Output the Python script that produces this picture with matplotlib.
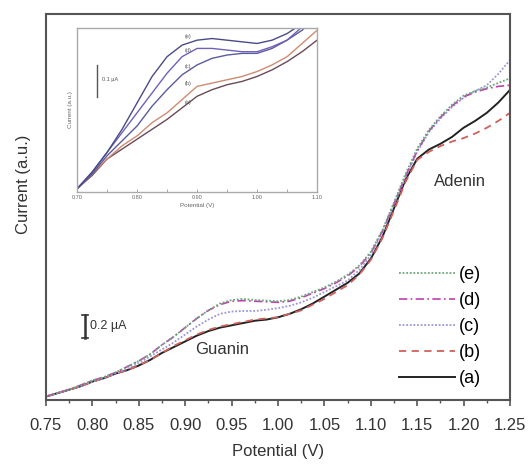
import numpy as np
import matplotlib
matplotlib.use("Agg")
import matplotlib.pyplot as plt

plt.rcParams['font.family'] = ['Liberation Sans', 'DejaVu Sans']

# main DPV curves, current in uA (0.0125 V steps)
potential = [0.75, 0.7625, 0.775, 0.7875, 0.80, 0.8125, 0.825, 0.8375, 0.85, 0.8625,
             0.875, 0.8875, 0.90, 0.9125, 0.925, 0.9375, 0.95, 0.9625, 0.975, 0.9875,
             1.00, 1.0125, 1.025, 1.0375, 1.05, 1.0625, 1.075, 1.0875, 1.10, 1.1125,
             1.125, 1.1375, 1.15, 1.1625, 1.175, 1.1875, 1.20, 1.2125, 1.225, 1.2375, 1.25]
cur_a = [0.03, 0.06, 0.09, 0.12, 0.16, 0.19, 0.23, 0.26, 0.30, 0.35,
         0.41, 0.46, 0.51, 0.56, 0.60, 0.63, 0.65, 0.67, 0.69, 0.70,
         0.72, 0.75, 0.79, 0.84, 0.90, 0.96, 1.02, 1.10, 1.23, 1.42,
         1.67, 1.92, 2.10, 2.18, 2.23, 2.29, 2.37, 2.43, 2.50, 2.59, 2.70]
cur_b = [0.03, 0.06, 0.09, 0.12, 0.16, 0.19, 0.23, 0.26, 0.30, 0.35,
         0.41, 0.47, 0.52, 0.57, 0.61, 0.64, 0.66, 0.68, 0.70, 0.71,
         0.72, 0.75, 0.78, 0.83, 0.88, 0.94, 1.00, 1.09, 1.22, 1.41,
         1.65, 1.90, 2.09, 2.16, 2.21, 2.25, 2.28, 2.32, 2.37, 2.43, 2.50]
cur_c = [0.03, 0.06, 0.09, 0.12, 0.16, 0.19, 0.23, 0.27, 0.32, 0.38,
         0.44, 0.50, 0.57, 0.64, 0.70, 0.75, 0.77, 0.775, 0.775, 0.785,
         0.80, 0.82, 0.85, 0.89, 0.94, 0.99, 1.04, 1.13, 1.26, 1.46,
         1.70, 1.94, 2.16, 2.33, 2.45, 2.55, 2.63, 2.69, 2.74, 2.84, 2.96]
cur_d = [0.03, 0.06, 0.09, 0.13, 0.17, 0.20, 0.24, 0.29, 0.34, 0.40,
         0.48, 0.55, 0.63, 0.71, 0.78, 0.83, 0.86, 0.865, 0.86, 0.855,
         0.85, 0.86, 0.89, 0.93, 0.97, 1.02, 1.08, 1.16, 1.28, 1.47,
         1.71, 1.95, 2.17, 2.34, 2.46, 2.56, 2.64, 2.68, 2.71, 2.73, 2.74]
cur_e = [0.03, 0.06, 0.09, 0.13, 0.17, 0.20, 0.24, 0.29, 0.34, 0.40,
         0.48, 0.55, 0.63, 0.71, 0.78, 0.84, 0.87, 0.88, 0.87, 0.865,
         0.86, 0.87, 0.90, 0.94, 0.98, 1.03, 1.09, 1.17, 1.29, 1.48,
         1.72, 1.97, 2.19, 2.35, 2.47, 2.57, 2.65, 2.69, 2.72, 2.76, 2.80]
labels = ["(a)", "(b)", "(c)", "(d)", "(e)"]

# inset curves (0.1 uA scale bar)
ins_pot = [0.70, 0.725, 0.75, 0.775, 0.80, 0.825, 0.85, 0.875, 0.90,
           0.925, 0.95, 0.975, 1.00, 1.025, 1.05, 1.075, 1.10]
ins_a = [0.01, 0.05, 0.10, 0.13, 0.16, 0.19, 0.22, 0.255, 0.29,
         0.31, 0.325, 0.335, 0.35, 0.37, 0.395, 0.425, 0.46]
ins_b = [0.01, 0.055, 0.10, 0.14, 0.17, 0.21, 0.24, 0.28, 0.32,
         0.33, 0.34, 0.35, 0.365, 0.385, 0.41, 0.45, 0.49]
ins_c = [0.01, 0.055, 0.11, 0.155, 0.20, 0.26, 0.31, 0.355, 0.385,
         0.405, 0.415, 0.42, 0.42, 0.435, 0.46, 0.49, 0.53]
ins_d = [0.01, 0.06, 0.12, 0.18, 0.24, 0.30, 0.36, 0.41, 0.435,
         0.435, 0.43, 0.425, 0.425, 0.44, 0.46, 0.50, 0.54]
ins_e = [0.01, 0.06, 0.12, 0.19, 0.27, 0.35, 0.41, 0.445, 0.46,
         0.465, 0.46, 0.455, 0.45, 0.46, 0.48, 0.51, 0.56]

fig = plt.figure(figsize=(5.28, 4.66), dpi=100)
ax = fig.add_axes([0.087, 0.1416, 0.879, 0.8284])

styles = [
    dict(color='#222222', ls='-', lw=1.4),
    dict(color='#d0605a', ls=(0, (4, 3)), lw=1.3),
    dict(color='#9a96d8', ls=(0, (1, 1)), lw=1.3),
    dict(color='#c040b0', ls=(0, (5, 2, 1, 2)), lw=1.2),
    dict(color='#6aa878', ls=(0, (1, 1)), lw=1.3),
]
for cur, lab, st in zip([cur_a, cur_b, cur_c, cur_d, cur_e], labels, styles):
    ax.plot(potential, cur, label=lab, **st)

ax.set_xlim(0.75, 1.25)
ax.set_ylim(0, 3.36)
ax.set_xticks(np.arange(0.75, 1.2501, 0.05))
ax.set_xticks(np.arange(0.775, 1.25, 0.05), minor=True)
ax.set_xticklabels(["%.2f" % v for v in np.arange(0.75, 1.2501, 0.05)])
ax.set_yticks([])
ax.tick_params(axis='x', which='major', direction='out', length=4, width=1.2,
               labelsize=12, color='#555555', labelcolor='#333333', pad=9)
ax.tick_params(axis='x', which='minor', direction='out', length=2.5, width=1.0,
               color='#555555')
for sp in ax.spines.values():
    sp.set_color('#555555')
    sp.set_linewidth(1.5)

ax.set_xlabel("Potential (V)", fontsize=12, color='#333333', labelpad=8)
ax.set_ylabel("Current (a.u.)", fontsize=12, color='#333333')
ax.yaxis.set_label_coords(-0.032, 0.56)

h, l = ax.get_legend_handles_labels()
ax.legend(h[::-1], l[::-1], loc='lower right', bbox_to_anchor=(0.965, 0.0),
          frameon=False, fontsize=13, handlelength=3.1, handletextpad=0.2,
          labelspacing=0.5, borderaxespad=0.3)

# scale bar 0.2 uA
ax.plot([0.792, 0.792], [0.54, 0.74], color='#333333', lw=1.8)
ax.plot([0.789, 0.795], [0.54, 0.54], color='#333333', lw=1.2)
ax.plot([0.789, 0.795], [0.74, 0.74], color='#333333', lw=1.2)
ax.text(0.797, 0.64, "0.2 \u00b5A", fontsize=9, va='center', ha='left', color='#333333')
ax.text(0.94, 0.44, "Guanin", fontsize=12, ha='center', va='center', color='#333333')
ax.text(1.196, 1.90, "Adenin", fontsize=12, ha='center', va='center', color='#333333')

# inset
axi = fig.add_axes([0.146, 0.588, 0.4545, 0.352])
ins_colors = ['#6a4a55', '#d08a70', '#5a5aa0', '#7060b8', '#4a4a88']
for cur, c in zip([ins_a, ins_b, ins_c, ins_d, ins_e], ins_colors):
    axi.plot(ins_pot, cur, color=c, lw=1.0)
axi.set_xlim(0.70, 1.10)
axi.set_ylim(0, 0.497)
axi.set_xticks([0.70, 0.80, 0.90, 1.00, 1.10])
axi.set_xticks([0.75, 0.85, 0.95, 1.05], minor=True)
axi.set_xticklabels(["0.70", "0.80", "0.90", "1.00", "1.10"])
axi.set_yticks([])
axi.tick_params(axis='x', which='both', direction='in', length=2, width=0.6,
                labelsize=4, color='#999999', labelcolor='#666666', pad=2)
for sp in axi.spines.values():
    sp.set_color('#aaaaaa')
    sp.set_linewidth(1.0)
axi.set_xlabel("Potential (V)", fontsize=4.5, color='#666666', labelpad=2)
axi.set_ylabel("Current (a.u.)", fontsize=4.5, color='#666666', labelpad=3)
for lab, yv in zip(["(e)", "(d)", "(c)", "(b)", "(a)"], [0.47, 0.43, 0.38, 0.33, 0.27]):
    axi.text(0.885, yv, lab, fontsize=4, ha='center', va='center', color='#555555')
axi.plot([0.733, 0.733], [0.288, 0.385], color='#555555', lw=1.0)
axi.text(0.742, 0.34, "0.1 \u00b5A", fontsize=4, va='center', ha='left', color='#555555')

plt.savefig('out.png', dpi=100)
